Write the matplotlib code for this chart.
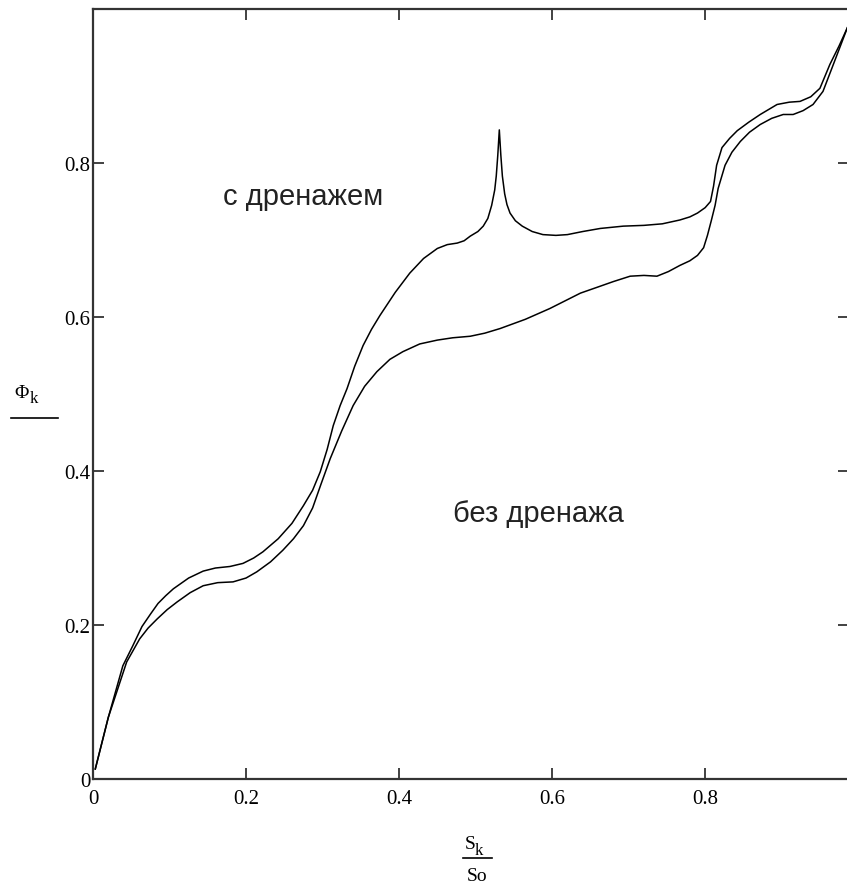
import matplotlib
matplotlib.use('Agg')
import matplotlib.pyplot as plt
from matplotlib.lines import Line2D

# Points (S_k/So, Phi_k)
# upper curve - "с дренажем"
x_drain = [0.003, 0.02, 0.039, 0.052, 0.064, 0.075, 0.085, 0.095, 0.105, 0.125,
           0.144, 0.16, 0.179, 0.196, 0.21, 0.222, 0.242, 0.26, 0.275, 0.287,
           0.297, 0.306, 0.314, 0.323, 0.332, 0.342, 0.353, 0.364, 0.375, 0.395,
           0.414, 0.432, 0.45, 0.463, 0.476, 0.485, 0.493, 0.503, 0.51, 0.516,
           0.521, 0.525, 0.527, 0.529, 0.531, 0.533, 0.535, 0.538, 0.541, 0.545,
           0.552, 0.561, 0.574, 0.588, 0.605, 0.62, 0.64, 0.663, 0.693, 0.72,
           0.744, 0.767, 0.78, 0.79, 0.8, 0.807, 0.811, 0.815, 0.822, 0.832,
           0.842, 0.857, 0.872, 0.894, 0.91, 0.924, 0.938, 0.95, 0.963, 0.975,
           0.986]
y_drain = [0.013, 0.08, 0.147, 0.173, 0.198, 0.214, 0.228, 0.238, 0.247, 0.261,
           0.27, 0.274, 0.276, 0.28, 0.287, 0.295, 0.312, 0.332, 0.355, 0.375,
           0.399, 0.428, 0.459, 0.485, 0.507, 0.536, 0.563, 0.584, 0.602, 0.632,
           0.657, 0.676, 0.689, 0.694, 0.696, 0.699, 0.705, 0.711, 0.718, 0.728,
           0.745, 0.765, 0.783, 0.81, 0.843, 0.81, 0.783, 0.76, 0.746, 0.735,
           0.725, 0.718, 0.711, 0.707, 0.706, 0.707, 0.711, 0.715, 0.718, 0.719,
           0.721, 0.726, 0.73, 0.735, 0.742, 0.75, 0.77, 0.797, 0.82, 0.832,
           0.842, 0.853, 0.863, 0.876, 0.879, 0.88, 0.886, 0.897, 0.928, 0.952,
           0.976]

# lower curve - "без дренажа"
x_nodrain = [0.003, 0.02, 0.044, 0.061, 0.072, 0.084, 0.097, 0.11, 0.127, 0.144,
             0.163, 0.183, 0.2, 0.214, 0.232, 0.248, 0.262, 0.275, 0.287, 0.298,
             0.31, 0.325, 0.34, 0.355, 0.371, 0.388, 0.405, 0.427, 0.45, 0.47,
             0.493, 0.512, 0.532, 0.565, 0.597, 0.617, 0.637, 0.66, 0.68, 0.702,
             0.72, 0.737, 0.752, 0.767, 0.78, 0.79, 0.798, 0.803, 0.808, 0.813,
             0.817, 0.826, 0.835, 0.846, 0.858, 0.872, 0.887, 0.902, 0.915, 0.928,
             0.941, 0.954, 0.966, 0.976, 0.986]
y_nodrain = [0.013, 0.08, 0.152, 0.182, 0.196, 0.208, 0.22, 0.23, 0.242, 0.251,
             0.255, 0.256, 0.261, 0.269, 0.282, 0.297, 0.312, 0.329, 0.352, 0.383,
             0.416, 0.452, 0.485, 0.51, 0.529, 0.545, 0.555, 0.565, 0.57, 0.573,
             0.575, 0.579, 0.585, 0.597, 0.611, 0.621, 0.631, 0.639, 0.646, 0.653,
             0.654, 0.653, 0.659, 0.667, 0.673, 0.68, 0.69, 0.706, 0.725, 0.745,
             0.767, 0.797, 0.814, 0.828, 0.84, 0.85, 0.858, 0.863, 0.863, 0.868,
             0.876, 0.893, 0.924, 0.95, 0.976]

ticks = [0, 0.2, 0.4, 0.6, 0.8]
tick_labels = ['0', '0.2', '0.4', '0.6', '0.8']

W, H = 847, 887
fig = plt.figure(figsize=(W / 100, H / 100), dpi=100)
ax = fig.add_axes([93 / W, 107 / H, (849 - 93) / W, 770 / H])

ax.plot(x_drain, y_drain, color='black', lw=1.1)
ax.plot(x_nodrain, y_nodrain, color='black', lw=1.1)

ax.set_xlim(0, 0.988)
ax.set_ylim(0, 1.0)
ax.set_xticks(ticks)
ax.set_yticks(ticks)
ax.set_xticklabels(tick_labels)
ax.set_yticklabels(tick_labels)
ax.tick_params(direction='in', length=8, width=1.3, color='#333333',
               top=True, right=True, labelsize=15)
ax.tick_params(axis='x', pad=7)
ax.tick_params(axis='y', pad=2)
for lab in ax.get_xticklabels() + ax.get_yticklabels():
    lab.set_family('Liberation Serif')
for sp in ax.spines.values():
    sp.set_linewidth(1.6)
    sp.set_color('#333333')

fig.text(223 / W, 1 - 197 / H, 'с дренажем', family='Liberation Sans',
         fontsize=21, va='center', ha='left', color='#222222')
fig.text(453 / W, 1 - 514 / H, 'без дренажа', family='Liberation Sans',
         fontsize=21, va='center', ha='left', color='#222222')

# y axis label: Phi_k over a bar
fig.text(14 / W, 1 - 394 / H, 'Φ', family='Liberation Serif', fontsize=14,
         va='center', ha='left')
fig.text(30 / W, 1 - 399 / H, 'k', family='Liberation Serif', fontsize=12,
         va='center', ha='left')
fig.add_artist(Line2D([11 / W, 58 / W], [1 - 419 / H, 1 - 419 / H],
                      transform=fig.transFigure, color='black', lw=1.2))

# x axis label: S_k / So
fig.text(465 / W, 1 - 845 / H, 'S', family='Liberation Serif', fontsize=14,
         va='center', ha='left')
fig.text(475 / W, 1 - 851 / H, 'k', family='Liberation Serif', fontsize=12,
         va='center', ha='left')
fig.add_artist(Line2D([463 / W, 492 / W], [1 - 859 / H, 1 - 859 / H],
                      transform=fig.transFigure, color='black', lw=1.2))
fig.text(477 / W, 1 - 877 / H, 'So', family='Liberation Serif', fontsize=14,
         va='center', ha='center')

fig.savefig('out.png', dpi=100)
